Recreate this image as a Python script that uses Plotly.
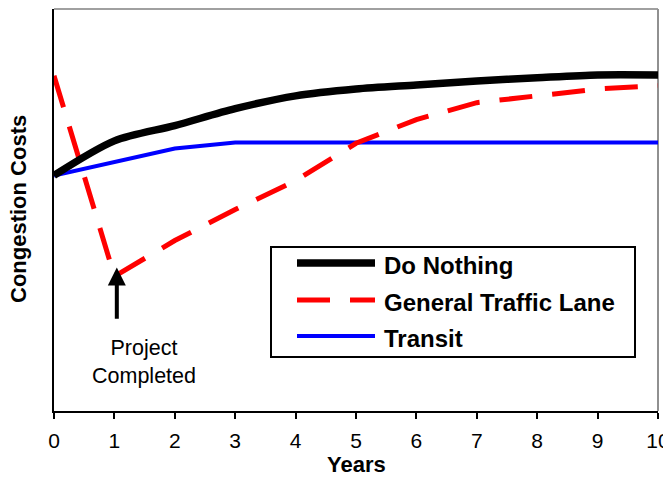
import plotly.graph_objects as go

# ---- data (y in arbitrary congestion-cost units; axis has no tick values) ----
years = [0, 1, 2, 3, 4, 5, 6, 7, 8, 9, 10]
do_nothing = [58.6, 67.2, 71.0, 75.2, 78.4, 80.1, 81.1, 82.1, 82.9, 83.6, 83.6]
general_traffic_lane = [83.4, 33.5, 42.4, 50.1, 57.3, 66.6, 72.5, 76.7, 78.4, 80.1, 80.9]
transit = [58.6, 62.0, 65.3, 66.8, 66.8, 66.8, 66.8, 66.8, 66.8, 66.8, 66.8]
series_names = ["Do Nothing", "General Traffic Lane", "Transit"]
x_tick_labels = [str(y) for y in years]
project_year = 1.04
project_label = "Project<br>Completed"

FONT = "Arial, Liberation Sans, sans-serif"
RED_DASH = "33px,20px"

# the page body keeps its default 8px margin, so the figure is 8px smaller than the window
OFF = 8
W, H = 663, 469
ML, MR, MT, MB = 46, 13, 1, 66
PW, PH = W - ML - MR, H - MT - MB


def px_x(sx):  # window x -> paper x
    return (sx - OFF - ML) / PW


def px_y(sy):  # window y -> paper y
    return (H - MB - (sy - OFF)) / PH


fig = go.Figure()
fig.add_trace(go.Scatter(x=years, y=transit, mode="lines", name=series_names[2],
                         line=dict(color="#0000FF", width=4), showlegend=False))
fig.add_trace(go.Scatter(x=years, y=general_traffic_lane, mode="lines", name=series_names[1],
                         line=dict(color="#FF0000", width=5, dash=RED_DASH), showlegend=False))
fig.add_trace(go.Scatter(x=years, y=do_nothing, mode="lines", name=series_names[0],
                         line=dict(color="#000000", width=7.5, shape="spline", smoothing=0.8),
                         showlegend=False))

shapes = [
    dict(type="line", xref="paper", yref="paper", x0=0, x1=1, y0=1, y1=1,
         line=dict(color="#A0A0A0", width=2), layer="below"),
    dict(type="line", xref="paper", yref="paper", x0=1, x1=1, y0=0, y1=1,
         line=dict(color="#909090", width=2), layer="below"),
    dict(type="rect", xref="paper", yref="paper", x0=px_x(271), x1=px_x(635), y0=px_y(357), y1=px_y(247),
         line=dict(color="black", width=2), fillcolor="white"),
]
leg_rows = [263, 300, 336]
leg_styles = [dict(color="#000000", width=7.5), dict(color="#FF0000", width=5, dash=RED_DASH),
              dict(color="#0000FF", width=4)]
annotations = []
for name, sy, st in zip(series_names, leg_rows, leg_styles):
    shapes.append(dict(type="line", xref="paper", yref="paper", x0=px_x(297), x1=px_x(375),
                       y0=px_y(sy), y1=px_y(sy), line=st))
    annotations.append(dict(xref="paper", yref="paper", x=px_x(382), y=px_y(sy + 2), xanchor="left",
                            yanchor="middle", showarrow=False, text="<b>%s</b>" % name,
                            font=dict(family=FONT, size=24, color="black")))

# Project completed arrow + label
annotations.append(dict(x=project_year, y=35.7, xref="x", yref="y", ax=project_year, ay=22.6,
                        axref="x", ayref="y", text="", showarrow=True, arrowhead=2,
                        arrowsize=0.9, arrowwidth=4, arrowcolor="black", standoff=0))
annotations.append(dict(x=px_x(144), y=px_y(362), xref="paper", yref="paper",
                        text=project_label, showarrow=False, xanchor="center", yanchor="middle",
                        font=dict(family=FONT, size=21.5, color="black"), align="center"))
# axis titles
annotations.append(dict(x=px_x(19), y=px_y(209), xref="paper", yref="paper",
                        text="<b>Congestion Costs</b>", textangle=-90, showarrow=False,
                        xanchor="center", yanchor="middle", borderpad=0,
                        font=dict(family=FONT, size=22, color="black")))
annotations.append(dict(x=px_x(356), y=px_y(464), xref="paper", yref="paper",
                        text="<b>Years</b>", showarrow=False, xanchor="center", yanchor="middle",
                        borderpad=0, font=dict(family=FONT, size=22, color="black")))

fig.update_layout(
    width=W, height=H, autosize=False,
    margin=dict(l=ML, r=MR, t=MT, b=MB, pad=0),
    paper_bgcolor="white", plot_bgcolor="white",
    font=dict(family=FONT, color="black"),
    shapes=shapes, annotations=annotations, showlegend=False,
    xaxis=dict(range=[0, 10], tickvals=years, ticktext=x_tick_labels, showgrid=False, zeroline=False,
               showline=True, linecolor="black", linewidth=2, ticks="outside", ticklen=6,
               tickwidth=2, tickcolor="black", ticklabelstandoff=4,
               tickfont=dict(family=FONT, size=21, color="black")),
    yaxis=dict(range=[0, 100], showgrid=False, zeroline=False, showticklabels=False,
               showline=True, linecolor="black", linewidth=2, ticks=""),
)

fig.write_html("out.html", config={"responsive": False, "displayModeBar": False})
